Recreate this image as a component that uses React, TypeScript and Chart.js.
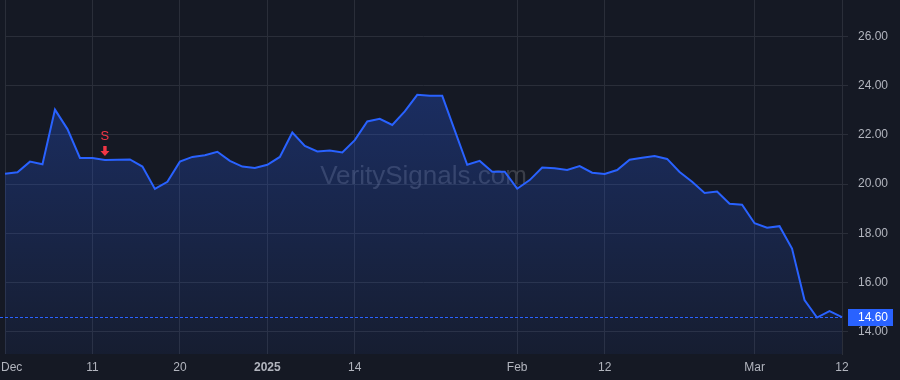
import React, { useEffect, useRef } from "react";
import { Chart, registerables } from "chart.js";

Chart.register(...registerables);

const dates: string[] = [
  "2024-12-02","2024-12-03","2024-12-04","2024-12-05","2024-12-06","2024-12-09","2024-12-10","2024-12-11",
  "2024-12-12","2024-12-13","2024-12-16","2024-12-17","2024-12-18","2024-12-19","2024-12-20","2024-12-23",
  "2024-12-24","2024-12-26","2024-12-27","2024-12-30","2024-12-31",
  "2025-01-02","2025-01-03","2025-01-06","2025-01-07","2025-01-08","2025-01-10","2025-01-13","2025-01-14",
  "2025-01-15","2025-01-16","2025-01-17","2025-01-21","2025-01-22","2025-01-23","2025-01-24","2025-01-27",
  "2025-01-28","2025-01-29","2025-01-30","2025-01-31",
  "2025-02-03","2025-02-04","2025-02-05","2025-02-06","2025-02-07","2025-02-10","2025-02-11","2025-02-12",
  "2025-02-13","2025-02-14","2025-02-18","2025-02-19","2025-02-20","2025-02-21","2025-02-24","2025-02-25",
  "2025-02-26","2025-02-27","2025-02-28",
  "2025-03-03","2025-03-04","2025-03-05","2025-03-06","2025-03-07","2025-03-10","2025-03-11","2025-03-12",
];

const closes: number[] = [
  20.42, 20.48, 20.91, 20.80, 23.02, 22.23, 21.06, 21.06,
  20.98, 20.99, 21.00, 20.71, 19.80, 20.09, 20.91, 21.10,
  21.17, 21.31, 20.94, 20.71, 20.65,
  20.78, 21.10, 22.09, 21.55, 21.32, 21.36, 21.28, 21.78,
  22.54, 22.65, 22.40, 22.95, 23.62, 23.58, 23.58, 22.18,
  20.78, 20.94, 20.50, 20.50,
  19.81, 20.16, 20.67, 20.64, 20.57, 20.73, 20.46, 20.41,
  20.57, 20.99, 21.07, 21.14, 21.02, 20.49, 20.09, 19.64,
  19.70, 19.20, 19.16,
  18.41, 18.23, 18.29, 17.38, 15.29, 14.58, 14.84, 14.60,
];

const xTickDates: string[] = ["2024-12-02","2024-12-11","2024-12-20","2025-01-02","2025-01-14","2025-02-03","2025-02-12","2025-03-03","2025-03-12"];
const xTickLabels: string[] = ["Dec","11","20","2025","14","Feb","12","Mar","12"];
const yTicks: number[] = [14, 16, 18, 20, 22, 24, 26];
const yMin = 13.102;
const yMax = 27.469;
const lastPrice = 14.6;
const signalDates: string[] = ["2024-12-12"];
const signalLabels: string[] = ["S"];
const watermark = "VeritySignals.com";

const BG = "#151924";
const GRID = "#2a2e39";
const TEXT = "#b2b5be";
const BLUE = "#2962ff";
const RED = "#f23645";
const FONT = '"Liberation Sans", Arial, sans-serif';

export default function App() {
  const ref = useRef<HTMLCanvasElement | null>(null);

  useEffect(() => {
    const canvas = ref.current;
    if (!canvas) return;

    const tickIdx = xTickDates.map((d) => dates.indexOf(d));

    const overlay = {
      id: "overlay",
      beforeDraw(chart: any) {
        const c = chart.ctx;
        c.save();
        c.fillStyle = BG;
        c.fillRect(0, 0, chart.width, chart.height);
        c.restore();
      },
      beforeDatasetsDraw(chart: any) {
        const c = chart.ctx;
        const a = chart.chartArea;
        c.save();
        c.font = `26px ${FONT}`;
        c.fillStyle = "rgba(178,181,190,0.24)";
        c.textAlign = "center";
        c.textBaseline = "middle";
        c.fillText(watermark, (a.left + a.right) / 2, (a.top + a.bottom) / 2);
        c.restore();
      },
      afterDatasetsDraw(chart: any) {
        const c = chart.ctx;
        const a = chart.chartArea;
        const xs = chart.scales.x;
        const ys = chart.scales.y;
        // dotted last price line
        const py = Math.round(ys.getPixelForValue(lastPrice)) + 0.5;
        c.save();
        c.strokeStyle = BLUE;
        c.lineWidth = 1.2;
        c.setLineDash([3, 2]);
        c.beginPath();
        c.moveTo(0, py);
        c.lineTo(a.right, py);
        c.stroke();
        c.restore();

        // signal markers
        signalDates.forEach((d, k) => {
          const i = dates.indexOf(d);
          const x = xs.getPixelForValue(i);
          const y = ys.getPixelForValue(closes[i]);
          const tip = y - 4;
          c.save();
          c.fillStyle = RED;
          c.beginPath();
          c.moveTo(x - 1.7, tip - 10);
          c.lineTo(x + 1.7, tip - 10);
          c.lineTo(x + 1.7, tip - 5);
          c.lineTo(x + 4.5, tip - 5);
          c.lineTo(x, tip);
          c.lineTo(x - 4.5, tip - 5);
          c.lineTo(x - 1.7, tip - 5);
          c.closePath();
          c.fill();
          c.font = `13px ${FONT}`;
          c.textAlign = "center";
          c.textBaseline = "middle";
          c.fillText(signalLabels[k], x, tip - 19);
          c.restore();
        });

        // x tick labels
        c.save();
        tickIdx.forEach((idx, k) => {
          const label = xTickLabels[k];
          c.font = `${label === "2025" ? "bold " : ""}12px ${FONT}`;
          const w = c.measureText(label).width;
          let x = xs.getPixelForValue(idx);
          x = Math.max(x, w / 2 + 1);
          x = Math.min(x, chart.width - w / 2 - 1);
          c.fillStyle = TEXT;
          c.textAlign = "center";
          c.textBaseline = "middle";
          c.fillText(label, x, a.bottom + 14);
        });
        c.restore();

        // price label box
        c.save();
        c.fillStyle = BLUE;
        c.fillRect(a.right + 6, py - 8.5, 45, 17);
        c.fillStyle = "#ffffff";
        c.font = `12px ${FONT}`;
        c.textAlign = "left";
        c.textBaseline = "middle";
        c.fillText(lastPrice.toFixed(2), a.right + 16, py);
        c.restore();
      },
    };

    const chart = new Chart(canvas, {
      type: "line",
      data: {
        labels: dates,
        datasets: [
          {
            data: closes,
            borderColor: BLUE,
            borderWidth: 2,
            pointRadius: 0,
            tension: 0,
            fill: "start",
            backgroundColor: (ctx: any) => {
              const ch = ctx.chart;
              const a = ch.chartArea;
              if (!a) return "rgba(41,98,255,0.15)";
              const ys = ch.scales.y;
              const top = ys.getPixelForValue(Math.max(...closes));
              const g = ch.ctx.createLinearGradient(0, top, 0, a.bottom);
              g.addColorStop(0, "rgba(41,98,255,0.28)");
              g.addColorStop(1, "rgba(41,98,255,0.06)");
              return g;
            },
          },
        ],
      },
      options: {
        animation: false,
        responsive: false,
        maintainAspectRatio: false,
        events: [],
        layout: { autoPadding: false, padding: { left: 5, top: 0, right: 0, bottom: 0 } },
        plugins: {
          legend: { display: false },
          title: { display: false },
          subtitle: { display: false },
          tooltip: { enabled: false },
        },
        scales: {
          x: {
            type: "category",
            offset: false,
            afterBuildTicks: (scale: any) => {
              scale.ticks = tickIdx.map((v) => ({ value: v }));
            },
            afterFit: (scale: any) => {
              scale.height = 26;
              scale.paddingLeft = 0;
              scale.paddingRight = 0;
              scale.paddingTop = 0;
              scale.paddingBottom = 0;
            },
            grid: { color: GRID, drawTicks: false, lineWidth: 1 },
            border: { display: false },
            ticks: { display: false, autoSkip: false, maxRotation: 0 },
          },
          y: {
            type: "linear",
            position: "right",
            min: yMin,
            max: yMax,
            afterBuildTicks: (scale: any) => {
              scale.ticks = yTicks.map((v) => ({ value: v }));
            },
            afterFit: (scale: any) => {
              scale.width = 58;
              scale.paddingLeft = 0;
              scale.paddingRight = 0;
              scale.paddingTop = 0;
              scale.paddingBottom = 0;
            },
            grid: { color: GRID, drawTicks: true, tickLength: 6, tickColor: GRID },
            border: { display: true, color: GRID },
            ticks: {
              color: TEXT,
              padding: 10,
              font: { family: FONT, size: 12 },
              callback: (v: any) => Number(v).toFixed(2),
            },
          },
        },
      },
      plugins: [overlay],
    });

    return () => chart.destroy();
  }, []);

  return (
    <div style={{ position: "fixed", left: 0, top: 0, width: 900, height: 380 }}>
      <canvas ref={ref} width={900} height={380} style={{ width: 900, height: 380, display: "block" }} />
    </div>
  );
}
